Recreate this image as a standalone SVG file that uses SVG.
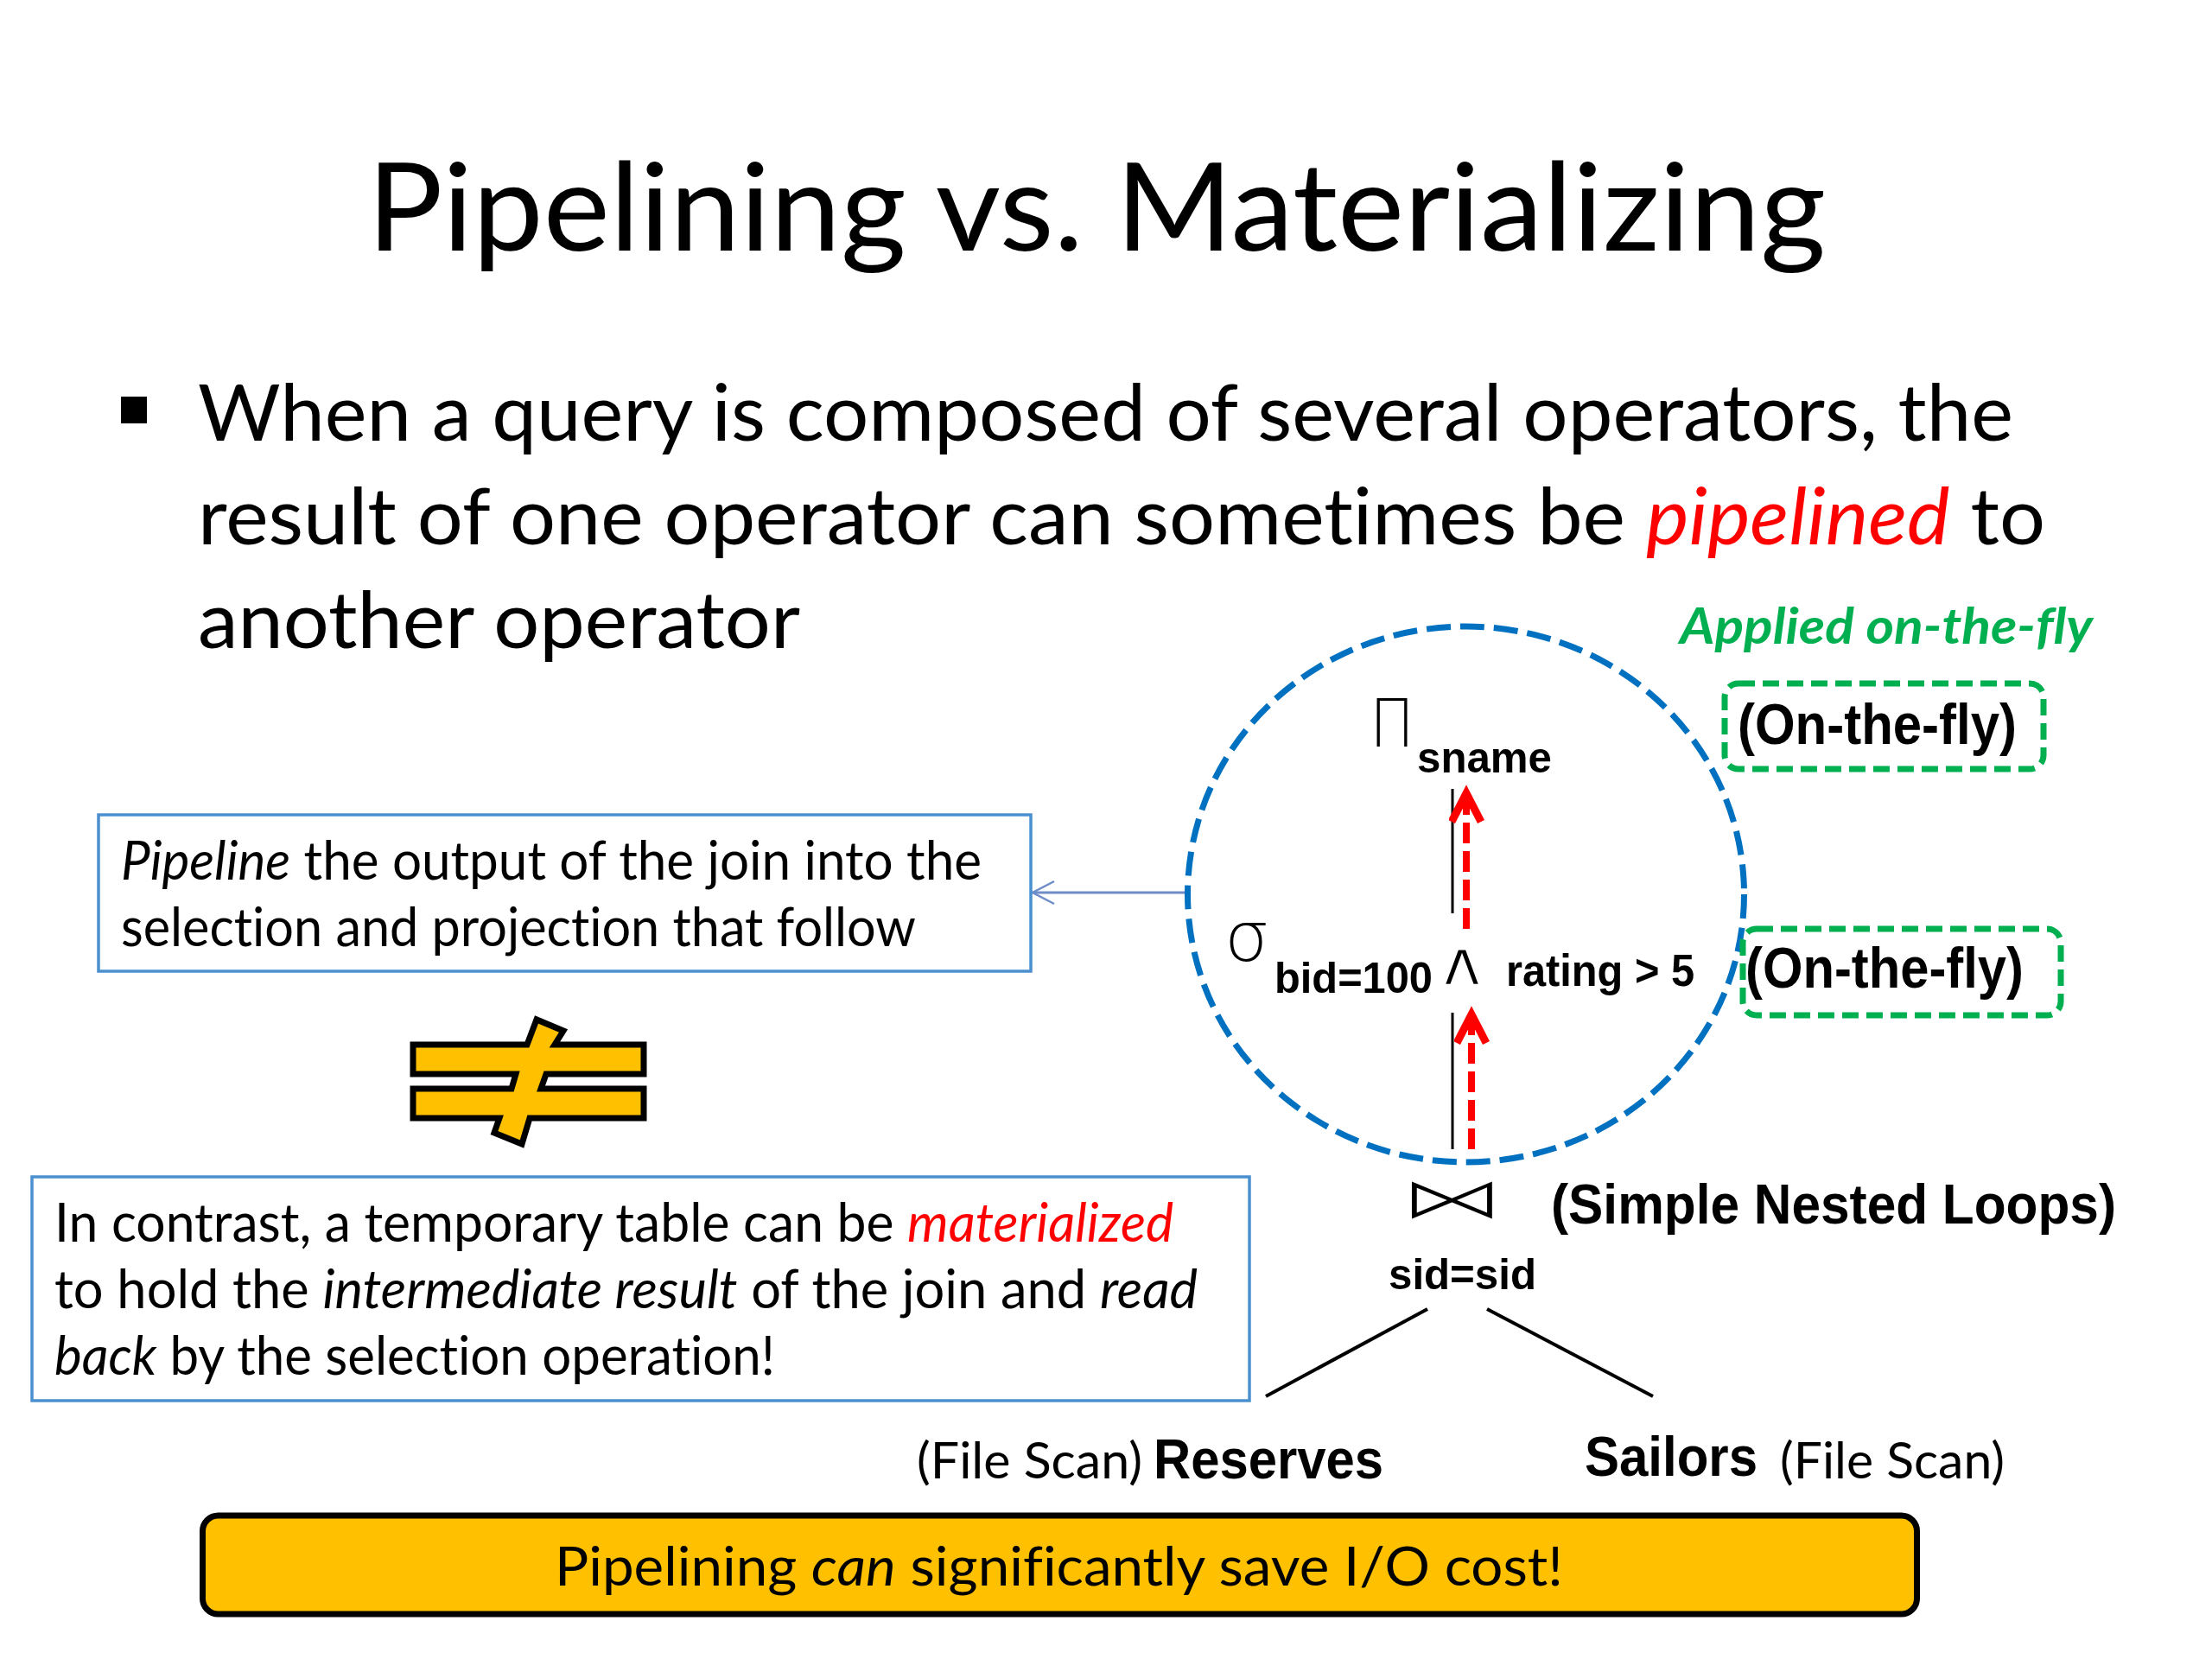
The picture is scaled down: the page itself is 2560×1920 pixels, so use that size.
<svg xmlns="http://www.w3.org/2000/svg" width="2560" height="1920" viewBox="0 0 2560 1920">
<style>
text{font-family:"Lato","Carlito","Open Sans",sans-serif;fill:#000;font-variant-ligatures:none}
.b{font-family:"Liberation Sans",Arial,sans-serif;font-weight:700}
.t{font-size:142px}
.l{font-size:92px}
.s{font-size:62px}
.i{font-style:italic}
.r{fill:#f00}
.box{fill:#fff;stroke:#4a90cf;stroke-width:3.5}
.g{fill:none;stroke:#00b050;stroke-width:7;stroke-dasharray:19 9}
.k{stroke:#000;stroke-width:3;fill:none}
.d{stroke:#000;stroke-width:4;fill:none}
.rd{stroke:#f00;stroke-width:8;stroke-dasharray:24 9;fill:none}
.sym{font-family:"DejaVu Sans",sans-serif;font-weight:200}
.thin{font-family:"DejaVu Sans",sans-serif;font-weight:400;stroke:#fff;stroke-width:2.5}
</style>
<defs>
<marker id="ah" markerUnits="userSpaceOnUse" markerWidth="50" markerHeight="50" refX="36" refY="20" orient="auto">
<path d="M3,3 L36,20 L3,37" fill="none" stroke="#f00" stroke-width="9"/>
</marker>
<marker id="bh" markerUnits="userSpaceOnUse" markerWidth="40" markerHeight="40" refX="26" refY="15" orient="auto">
<path d="M1,2 L26,15 L1,28" fill="none" stroke="#6d8cc8" stroke-width="2.5"/>
</marker>
</defs>
<rect width="2560" height="1920" fill="#fff"/>
<g id="title"><text class="t" x="425" y="290" textLength="1688" lengthAdjust="spacingAndGlyphs">Pipelining vs. Materializing</text></g>
<g id="bullets">
<rect x="140" y="459" width="30" height="31" fill="#000"/>
<text class="l" x="229" y="510" textLength="2101" lengthAdjust="spacingAndGlyphs">When a query is composed of several operators, the</text>
<text class="l" x="229" y="630" textLength="2138" lengthAdjust="spacingAndGlyphs">result of one operator can sometimes be <tspan class="i r">pipelined</tspan> to</text>
<text class="l" x="229" y="750" textLength="697" lengthAdjust="spacingAndGlyphs">another operator</text>
</g>
<g id="connectors">
<line x1="1374" y1="1033" x2="1195" y2="1033" stroke="#6d8cc8" stroke-width="3" marker-end="url(#bh)"/>
<line class="k" x1="1681" y1="913" x2="1681" y2="1057"/>
<line class="rd" x1="1697" y1="1075" x2="1697" y2="918" marker-end="url(#ah)"/>
<line class="k" x1="1681" y1="1172" x2="1681" y2="1330"/>
<line class="rd" x1="1703" y1="1330" x2="1703" y2="1174" marker-end="url(#ah)"/>
<line class="d" x1="1652" y1="1515" x2="1465" y2="1616"/>
<line class="d" x1="1721" y1="1515" x2="1913" y2="1616"/>
</g>
<g id="pipeline-note">
<rect class="box" x="114" y="943" width="1079" height="181"/>
<text class="s" x="140" y="1018" textLength="996" lengthAdjust="spacingAndGlyphs"><tspan class="i">Pipeline</tspan> the output of the join into the</text>
<text class="s" x="140" y="1095" textLength="920" lengthAdjust="spacingAndGlyphs">selection and projection that follow</text>
</g>
<g id="not-equal">
<path d="M478,1209 L610,1209 L621,1180 L652,1193 L642,1209 L745,1209 L745,1243 L632,1243 L626,1260 L745,1260 L745,1294 L613,1294 L604,1324 L572,1311 L578,1294 L478,1294 L478,1260 L592,1260 L597,1243 L478,1243 Z" fill="#ffc000" stroke="#000" stroke-width="7"/>
</g>
<g id="materialize-note">
<rect class="box" x="37" y="1362" width="1409" height="259"/>
<text class="s" x="63" y="1437" textLength="1295" lengthAdjust="spacingAndGlyphs">In contrast, a temporary table can be <tspan class="i r">materialized</tspan></text>
<text class="s" x="63" y="1514" textLength="1323" lengthAdjust="spacingAndGlyphs">to hold the <tspan class="i">intermediate result</tspan> of the join and <tspan class="i">read</tspan></text>
<text class="s" x="63" y="1591" textLength="834" lengthAdjust="spacingAndGlyphs"><tspan class="i">back</tspan> by the selection operation!</text>
</g>
<g id="pipeline-circle">
<ellipse cx="1696.5" cy="1035" rx="322" ry="310" fill="none" stroke="#0070c0" stroke-width="7" stroke-dasharray="28 11"/>
</g>
<g id="applied-label"><text class="l i" x="1944" y="745" style="font-size:58px;font-weight:700;fill:#00b050" textLength="478" lengthAdjust="spacingAndGlyphs">Applied on-the-fly</text></g>
<g id="on-the-fly-1">
<rect class="g" x="1996" y="791" width="369" height="99" rx="16"/>
<text class="b" x="2011" y="861" style="font-size:66px" textLength="323" lengthAdjust="spacingAndGlyphs">(On-the-fly)</text>
</g>
<g id="on-the-fly-2">
<rect class="g" x="2017" y="1075" width="368" height="100" rx="16"/>
<text class="b" x="2020" y="1143" style="font-size:66px" textLength="322" lengthAdjust="spacingAndGlyphs">(On-the-fly)</text>
</g>
<g id="projection">
<text class="sym" x="1585" y="864" style="font-size:76px" textLength="52" lengthAdjust="spacingAndGlyphs">Π</text>
<text class="b" x="1640" y="894" style="font-size:50px" textLength="156" lengthAdjust="spacingAndGlyphs">sname</text>
</g>
<g id="selection">
<text class="sym" x="1417" y="1112" style="font-size:80px" textLength="52" lengthAdjust="spacingAndGlyphs">σ</text>
<text class="b" x="1475" y="1149" style="font-size:50px" textLength="183" lengthAdjust="spacingAndGlyphs">bid=100</text>
<text class="thin" x="1660" y="1140" style="font-size:72px" textLength="64" lengthAdjust="spacingAndGlyphs">∧</text>
<text class="b" x="1743" y="1141" style="font-size:52px" textLength="218" lengthAdjust="spacingAndGlyphs">rating &gt; 5</text>
</g>
<g id="join">
<text class="thin" x="1619" y="1411" style="font-size:70px" textLength="123" lengthAdjust="spacingAndGlyphs">⋈</text>
<text class="b" x="1795" y="1416" style="font-size:64px" textLength="654" lengthAdjust="spacingAndGlyphs">(Simple Nested Loops)</text>
<text class="b" x="1607" y="1492" style="font-size:50px" textLength="171" lengthAdjust="spacingAndGlyphs">sid=sid</text>
</g>
<g id="reserves">
<text style="font-size:58px" x="1061" y="1711" textLength="261" lengthAdjust="spacingAndGlyphs">(File Scan)</text>
<text class="b" x="1335" y="1711" style="font-size:64px" textLength="266" lengthAdjust="spacingAndGlyphs">Reserves</text>
</g>
<g id="sailors">
<text class="b" x="1834" y="1708" style="font-size:64px" textLength="200" lengthAdjust="spacingAndGlyphs">Sailors</text>
<text style="font-size:58px" x="2060" y="1711" textLength="260" lengthAdjust="spacingAndGlyphs">(File Scan)</text>
</g>
<g id="conclusion">
<rect x="234.5" y="1754" width="1984" height="114" rx="18" fill="#ffc000" stroke="#000" stroke-width="7"/>
<text class="s" x="642" y="1835" textLength="1167" lengthAdjust="spacingAndGlyphs">Pipelining <tspan class="i">can</tspan> significantly save I/O cost!</text>
</g>
</svg>
